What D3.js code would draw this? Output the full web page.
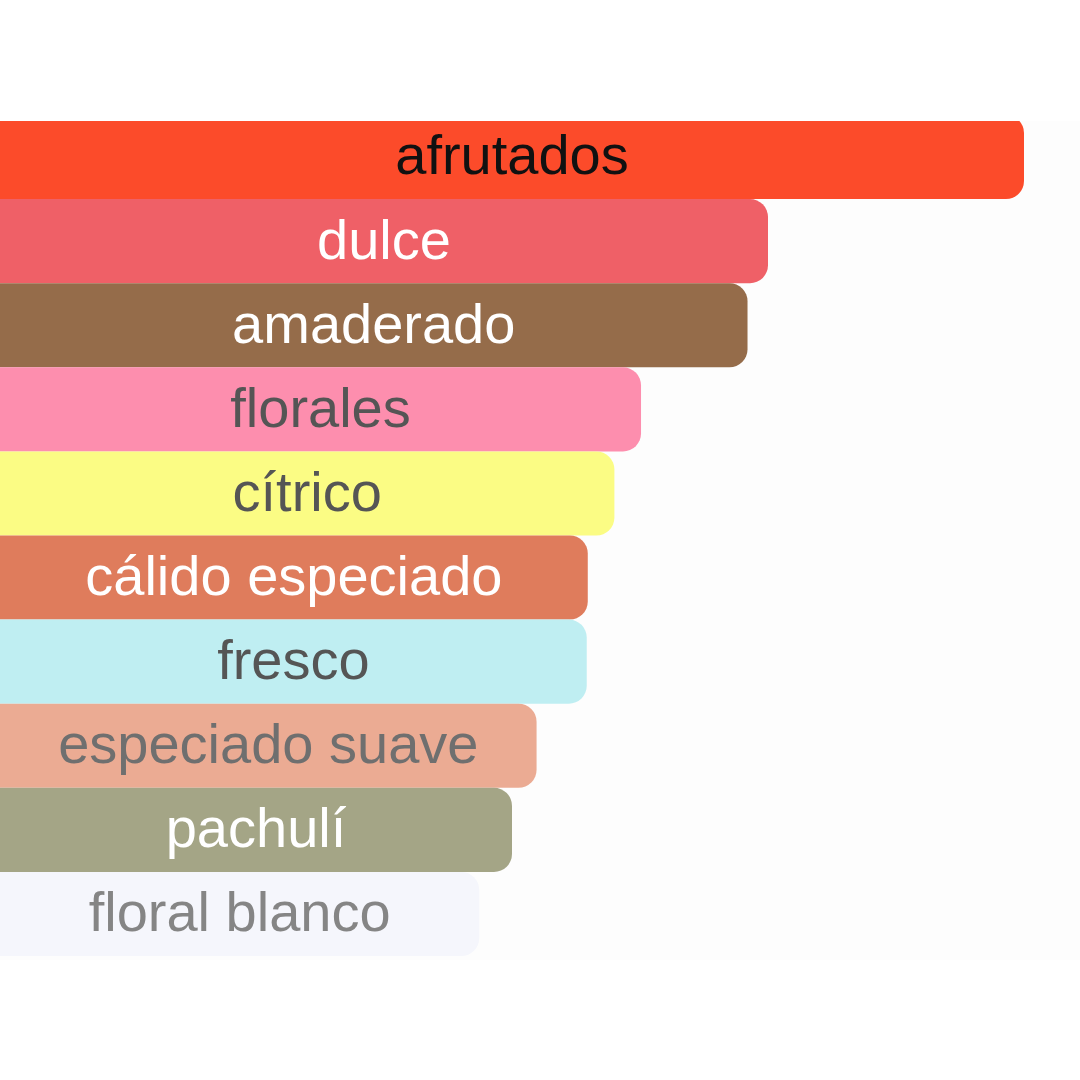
<!DOCTYPE html>
<html>
<head>
<meta charset="utf-8">
<script src="https://cdn.jsdelivr.net/npm/d3@7"></script>
<style>
  html, body { margin: 0; padding: 0; background: #ffffff; }
  svg { display: block; }
</style>
</head>
<body>
<div id="chart"></div>
<script>
////////////////////////////////////////////////////////////////////////
// Data: accord names, relative strength (percent), bar and label colors

const accords = ["afrutados", "dulce", "amaderado", "florales", "cítrico",
                 "cálido especiado", "fresco", "especiado suave", "pachulí", "floral blanco"];
const strength = [100, 75, 73, 62.6, 60, 57.4, 57.3, 52.4, 50, 46.8];
const barColors = ["#fc4b2a", "#ef6067", "#956c4a", "#fd8eae", "#fbfc84",
                   "#df7c5c", "#bfeef2", "#ebab93", "#a4a586", "#f5f6fc"];
const labelColors = ["#111111", "#ffffff", "#ffffff", "#555555", "#555555",
                     "#ffffff", "#555555", "#6f6f6f", "#ffffff", "#858585"];

////////////////////////////////////////////////////////////////////////
// Layout

const size = 1080;
const panelTop = 121;
const panelBottom = 960;

const svg = d3.select("#chart")
  .append("svg")
  .attr("width", size)
  .attr("height", size);

// off-white panel the bars sit in (also clips the top bar)
svg.append("defs").append("clipPath")
  .attr("id", "panel")
  .append("rect")
  .attr("x", 0)
  .attr("y", panelTop)
  .attr("width", size)
  .attr("height", panelBottom - panelTop);

svg.append("rect")
  .attr("x", 0)
  .attr("y", panelTop)
  .attr("width", size)
  .attr("height", panelBottom - panelTop)
  .attr("fill", "#fdfdfd");

// scales
const xScale = d3.scaleLinear()
  .domain([0, 100])
  .range([0, 1024]);

const yScale = d3.scaleBand()
  .domain(accords)
  .range([115, 956])
  .padding(0);

const g = svg.append("g").attr("clip-path", "url(#panel)");

const rows = g.selectAll("g.row")
  .data(accords.map((name, i) => ({ name, v: strength[i], i })))
  .join("g")
  .attr("class", "row");

// bars start off-screen so only the right corners show rounded
rows.append("rect")
  .attr("x", -30)
  .attr("y", d => yScale(d.name))
  .attr("width", d => xScale(d.v) + 30)
  .attr("height", yScale.bandwidth())
  .attr("rx", 18)
  .attr("ry", 18)
  .attr("fill", d => barColors[d.i]);

rows.append("text")
  .attr("x", d => xScale(d.v) / 2)
  .attr("y", d => yScale(d.name) + yScale.bandwidth() / 2)
  .attr("dy", "0.31em")
  .attr("text-anchor", "middle")
  .attr("font-family", "'Liberation Sans', Arial, sans-serif")
  .attr("font-size", "56px")
  .attr("fill", d => labelColors[d.i])
  .text(d => d.name);
</script>
</body>
</html>
